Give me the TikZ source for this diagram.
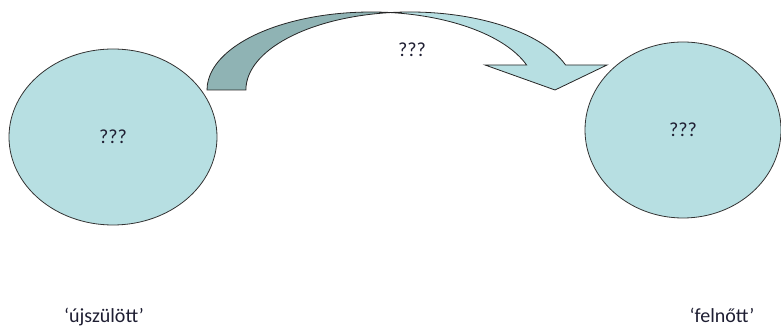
\documentclass[tikz,border=0pt]{standalone}
\usepackage{fontspec}
\setmainfont{Carlito}
\usetikzlibrary{shapes.geometric}
\definecolor{lightfill}{HTML}{B7DFE2}
\definecolor{darkfill}{HTML}{8FB3B4}
\definecolor{txt}{HTML}{1E1E32}
\begin{document}
\begin{tikzpicture}[x=1pt,y=1pt,
  blob/.style={ellipse, draw=black!80, line width=0.8pt, fill=lightfill, text=txt, font=\fontsize{20}{24}\selectfont},
  lbl/.style={text=txt, font=\fontsize{20}{24}\selectfont, inner sep=0pt, anchor=base},
  band/.style={draw=black!85, line width=0.8pt, line join=miter}]
\useasboundingbox (0,0) rectangle (781,332);
% ellipses
\node[blob, minimum width=208pt, minimum height=176pt, inner sep=0pt] (left) at (113,195) {???};
\node[blob, minimum width=196pt, minimum height=176pt, inner sep=0pt] (right) at (683,202) {???};
% curved arrow: E1 centre (371,242), E2 centre (410,242), rx 164.3, ry 78
\coordinate (top) at (390.5,319.45);
% front (light) band with head
\filldraw[band, fill=lightfill]
  (top) arc[start angle=96.8, end angle=18.7, x radius=164.3, y radius=78]
  -- (607,267) -- (555,242) -- (485,267) -- (526.6,267)
  arc[start angle=18.7, end angle=83.2, x radius=164.3, y radius=78] -- cycle;
% back (dark) band
\filldraw[band, fill=darkfill]
  (207,242) arc[start angle=180, end angle=83.2, x radius=164.3, y radius=78]
  arc[start angle=96.8, end angle=180, x radius=164.3, y radius=78] -- cycle;
\node[lbl] (mid) at (412,275) {???};
\node[lbl] (l1) at (104,10) {‘újszülött’};
\node[lbl] (l2) at (722,10) {‘felnőtt’};
\end{tikzpicture}
\end{document}
